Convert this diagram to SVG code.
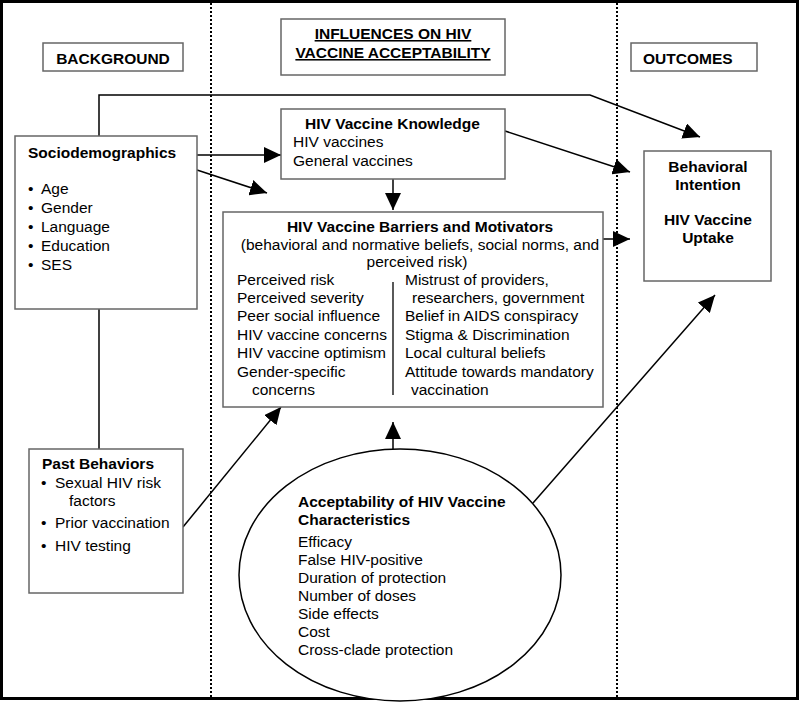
<svg xmlns="http://www.w3.org/2000/svg" width="800" height="702" viewBox="0 0 800 702">
<style>
text{font-family:"Liberation Sans",Arial,sans-serif;font-size:15.5px;fill:#000}
.b{font-weight:bold}
.c{text-anchor:middle}
.box{fill:#fff;stroke:#666;stroke-width:1.5}
.ln{fill:none;stroke:#000;stroke-width:1.5}
.arr{fill:none;stroke:#000;stroke-width:1.5;marker-end:url(#ah)}
.dot{stroke:#000;stroke-width:2;stroke-dasharray:2 2}
</style>
<defs>
<marker id="ah" markerUnits="userSpaceOnUse" markerWidth="18" markerHeight="16" refX="17" refY="8" orient="auto">
<path d="M0,0 L17,8 L0,16 z" fill="#000"/>
</marker>
</defs>
<rect x="0" y="0" width="800" height="702" fill="#fff"/>
<rect x="1.5" y="1.5" width="796" height="697" fill="none" stroke="#000" stroke-width="3"/>
<line class="dot" x1="211" y1="3" x2="211" y2="697"/>
<line class="dot" x1="617" y1="3" x2="617" y2="697"/>

<g id="connectors">
<path class="arr" d="M99,136 V95 H590 L700,137"/>
<path class="ln" d="M99,309 V449"/>
<path class="arr" d="M197,155 H281"/>
<path class="arr" d="M197,170 L267,193"/>
<path class="arr" d="M505,131 L630,172"/>
<path class="arr" d="M393,179 V210"/>
<path class="arr" d="M603,239 H630"/>
<path class="arr" d="M183,527 L281,407"/>
<path class="arr" d="M393,449 V422"/>
<path class="arr" d="M533,503 L715,295"/>
</g>

<g id="background">
<rect class="box" x="43" y="43" width="140" height="28"/>
<text class="b c" x="113" y="64">BACKGROUND</text>
</g>
<g id="influences">
<rect class="box" x="281" y="19" width="224" height="56"/>
<text class="b c" x="393" y="39" text-decoration="underline">INFLUENCES ON HIV</text>
<text class="b c" x="393" y="58" text-decoration="underline">VACCINE ACCEPTABILITY</text>
</g>
<g id="outcomes">
<rect class="box" x="631" y="43" width="126" height="28"/>
<text class="b" x="643" y="64">OUTCOMES</text>
</g>

<g id="sociodemographics">
<rect class="box" x="15" y="136" width="182" height="173"/>
<text class="b" x="28" y="158">Sociodemographics</text>
<text x="28" y="194">•<tspan x="41">Age</tspan></text>
<text x="28" y="213">•<tspan x="41">Gender</tspan></text>
<text x="28" y="232">•<tspan x="41">Language</tspan></text>
<text x="28" y="251">•<tspan x="41">Education</tspan></text>
<text x="28" y="270">•<tspan x="41">SES</tspan></text>
</g>

<g id="past-behaviors">
<rect class="box" x="29" y="449" width="154" height="144"/>
<text class="b" x="42" y="469">Past Behaviors</text>
<text x="41" y="488">•<tspan x="55">Sexual HIV risk</tspan></text>
<text x="69" y="506">factors</text>
<text x="41" y="528">•<tspan x="55">Prior vaccination</tspan></text>
<text x="41" y="551">•<tspan x="55">HIV testing</tspan></text>
</g>

<g id="knowledge">
<rect class="box" x="281" y="109" width="224" height="70"/>
<text class="b" x="305" y="129">HIV Vaccine Knowledge</text>
<text x="293" y="147">HIV vaccines</text>
<text x="293" y="166">General vaccines</text>
</g>

<g id="barriers">
<rect class="box" x="223" y="212" width="380" height="195"/>
<text class="b c" x="420" y="232">HIV Vaccine Barriers and Motivators</text>
<text class="c" x="420" y="250">(behavioral and normative beliefs, social norms, and</text>
<text class="c" x="417" y="267">perceived risk)</text>
<line x1="393" y1="282" x2="393" y2="395" stroke="#000" stroke-width="1.3"/>
<text x="237" y="285">Perceived risk</text>
<text x="237" y="303">Perceived severity</text>
<text x="237" y="321">Peer social influence</text>
<text x="237" y="340">HIV vaccine concerns</text>
<text x="237" y="358">HIV vaccine optimism</text>
<text x="237" y="377">Gender-specific</text>
<text x="252" y="395">concerns</text>
<text x="405" y="285">Mistrust of providers,</text>
<text x="412" y="303">researchers, government</text>
<text x="405" y="321">Belief in AIDS conspiracy</text>
<text x="405" y="340">Stigma &amp; Discrimination</text>
<text x="405" y="358">Local cultural beliefs</text>
<text x="405" y="377">Attitude towards mandatory</text>
<text x="411" y="395">vaccination</text>
</g>

<g id="behavioral-intention">
<rect class="box" x="644" y="151" width="127" height="130"/>
<text class="b c" x="708" y="172">Behavioral</text>
<text class="b c" x="708" y="190">Intention</text>
<text class="b c" x="708" y="225">HIV Vaccine</text>
<text class="b c" x="708" y="243">Uptake</text>
</g>

<g id="characteristics">
<ellipse cx="400" cy="575" rx="161" ry="126" fill="#fff" stroke="#000" stroke-width="1.5"/>
<text class="b" x="298" y="507">Acceptability of HIV Vaccine</text>
<text class="b" x="298" y="525">Characteristics</text>
<text x="298" y="547">Efficacy</text>
<text x="298" y="565">False HIV-positive</text>
<text x="298" y="583">Duration of protection</text>
<text x="298" y="601">Number of doses</text>
<text x="298" y="619">Side effects</text>
<text x="298" y="637">Cost</text>
<text x="298" y="655">Cross-clade protection</text>
</g>
</svg>
